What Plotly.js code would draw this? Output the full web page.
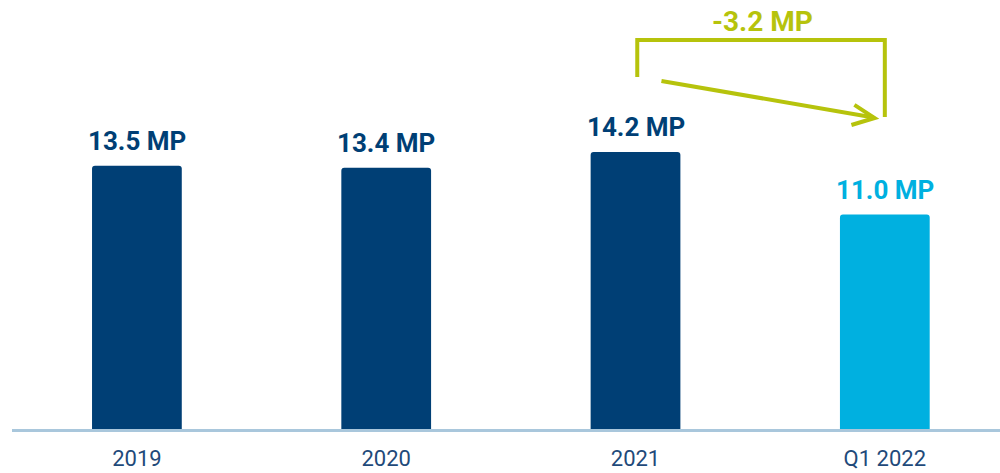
<!DOCTYPE html>
<html>
<head>
<meta charset="utf-8">
<script src="https://cdn.plot.ly/plotly-3.0.1.min.js"></script>
<style>html,body{margin:0;padding:0;background:#fff;}#chart{width:1000px;height:473px;}</style>
</head>
<body>
<div id="chart"></div>
<script>
const categories = ["2019", "2020", "2021", "Q1 2022"];
const values = [13.5, 13.4, 14.2, 11.0];
const valueLabels = ["13.5 MP", "13.4 MP", "14.2 MP", "11.0 MP"];
const changeLabel = "-3.2 MP";

const navy = "#003f75";
const cyan = "#00b0e0";
const green = "#b6c30c";
const barColors = values.map((v, i) => i === values.length - 1 ? cyan : navy);

const trace = {
  type: "bar",
  x: [0, 1, 2, 3],
  y: values,
  width: 0.36,
  marker: {color: barColors, line: {width: 0}},
  hoverinfo: "skip"
};

const annotations = values.map((v, i) => ({
  x: i, y: v, xref: "x", yref: "y",
  text: "<b>" + valueLabels[i] + "</b>",
  showarrow: false, yanchor: "bottom", yshift: 8,
  font: {family: "Roboto", size: 26, color: barColors[i]}
}));
annotations.push({
  x: 2.51, y: 19.95, xref: "x", yref: "y",
  text: "<b>" + changeLabel + "</b>",
  showarrow: false, yanchor: "bottom", yshift: 0,
  font: {family: "Roboto", size: 28, color: green}
});

const shapes = [
  {type: "path", xref: "x", yref: "y",
   path: "M 2.007 18.05 L 2.007 19.95 L 3.0 19.95 L 3.0 16.0",
   line: {color: green, width: 4}},
  {type: "line", xref: "x", yref: "y", x0: 2.104, y0: 17.85, x1: 2.955, y1: 15.97,
   line: {color: green, width: 4}},
  {type: "path", xref: "x", yref: "y",
   path: "M 2.878 16.62 L 2.959 15.95 L 2.866 15.59",
   line: {color: green, width: 4}}
];

const layout = {
  width: 1000, height: 473,
  margin: {l: 12, r: 0, t: 0, b: 44},
  paper_bgcolor: "#fff", plot_bgcolor: "#fff",
  barcornerradius: 3,
  showlegend: false,
  xaxis: {
    range: [-0.501, 3.462],
    tickmode: "array", tickvals: [0, 1, 2, 3], ticktext: categories,
    showline: true, linecolor: "#a9c7dc", linewidth: 3,
    showgrid: false, zeroline: false, ticks: "",
    ticklabelstandoff: 8,
    tickfont: {family: "Roboto", size: 22, color: "#1f4a7a"},
    fixedrange: true
  },
  yaxis: {
    range: [0, 22.0],
    visible: false, showgrid: false, zeroline: false, fixedrange: true
  },
  annotations: annotations,
  shapes: shapes
};

Plotly.newPlot("chart", [trace], layout, {displayModeBar: false, staticPlot: true});
</script>
</body>
</html>
